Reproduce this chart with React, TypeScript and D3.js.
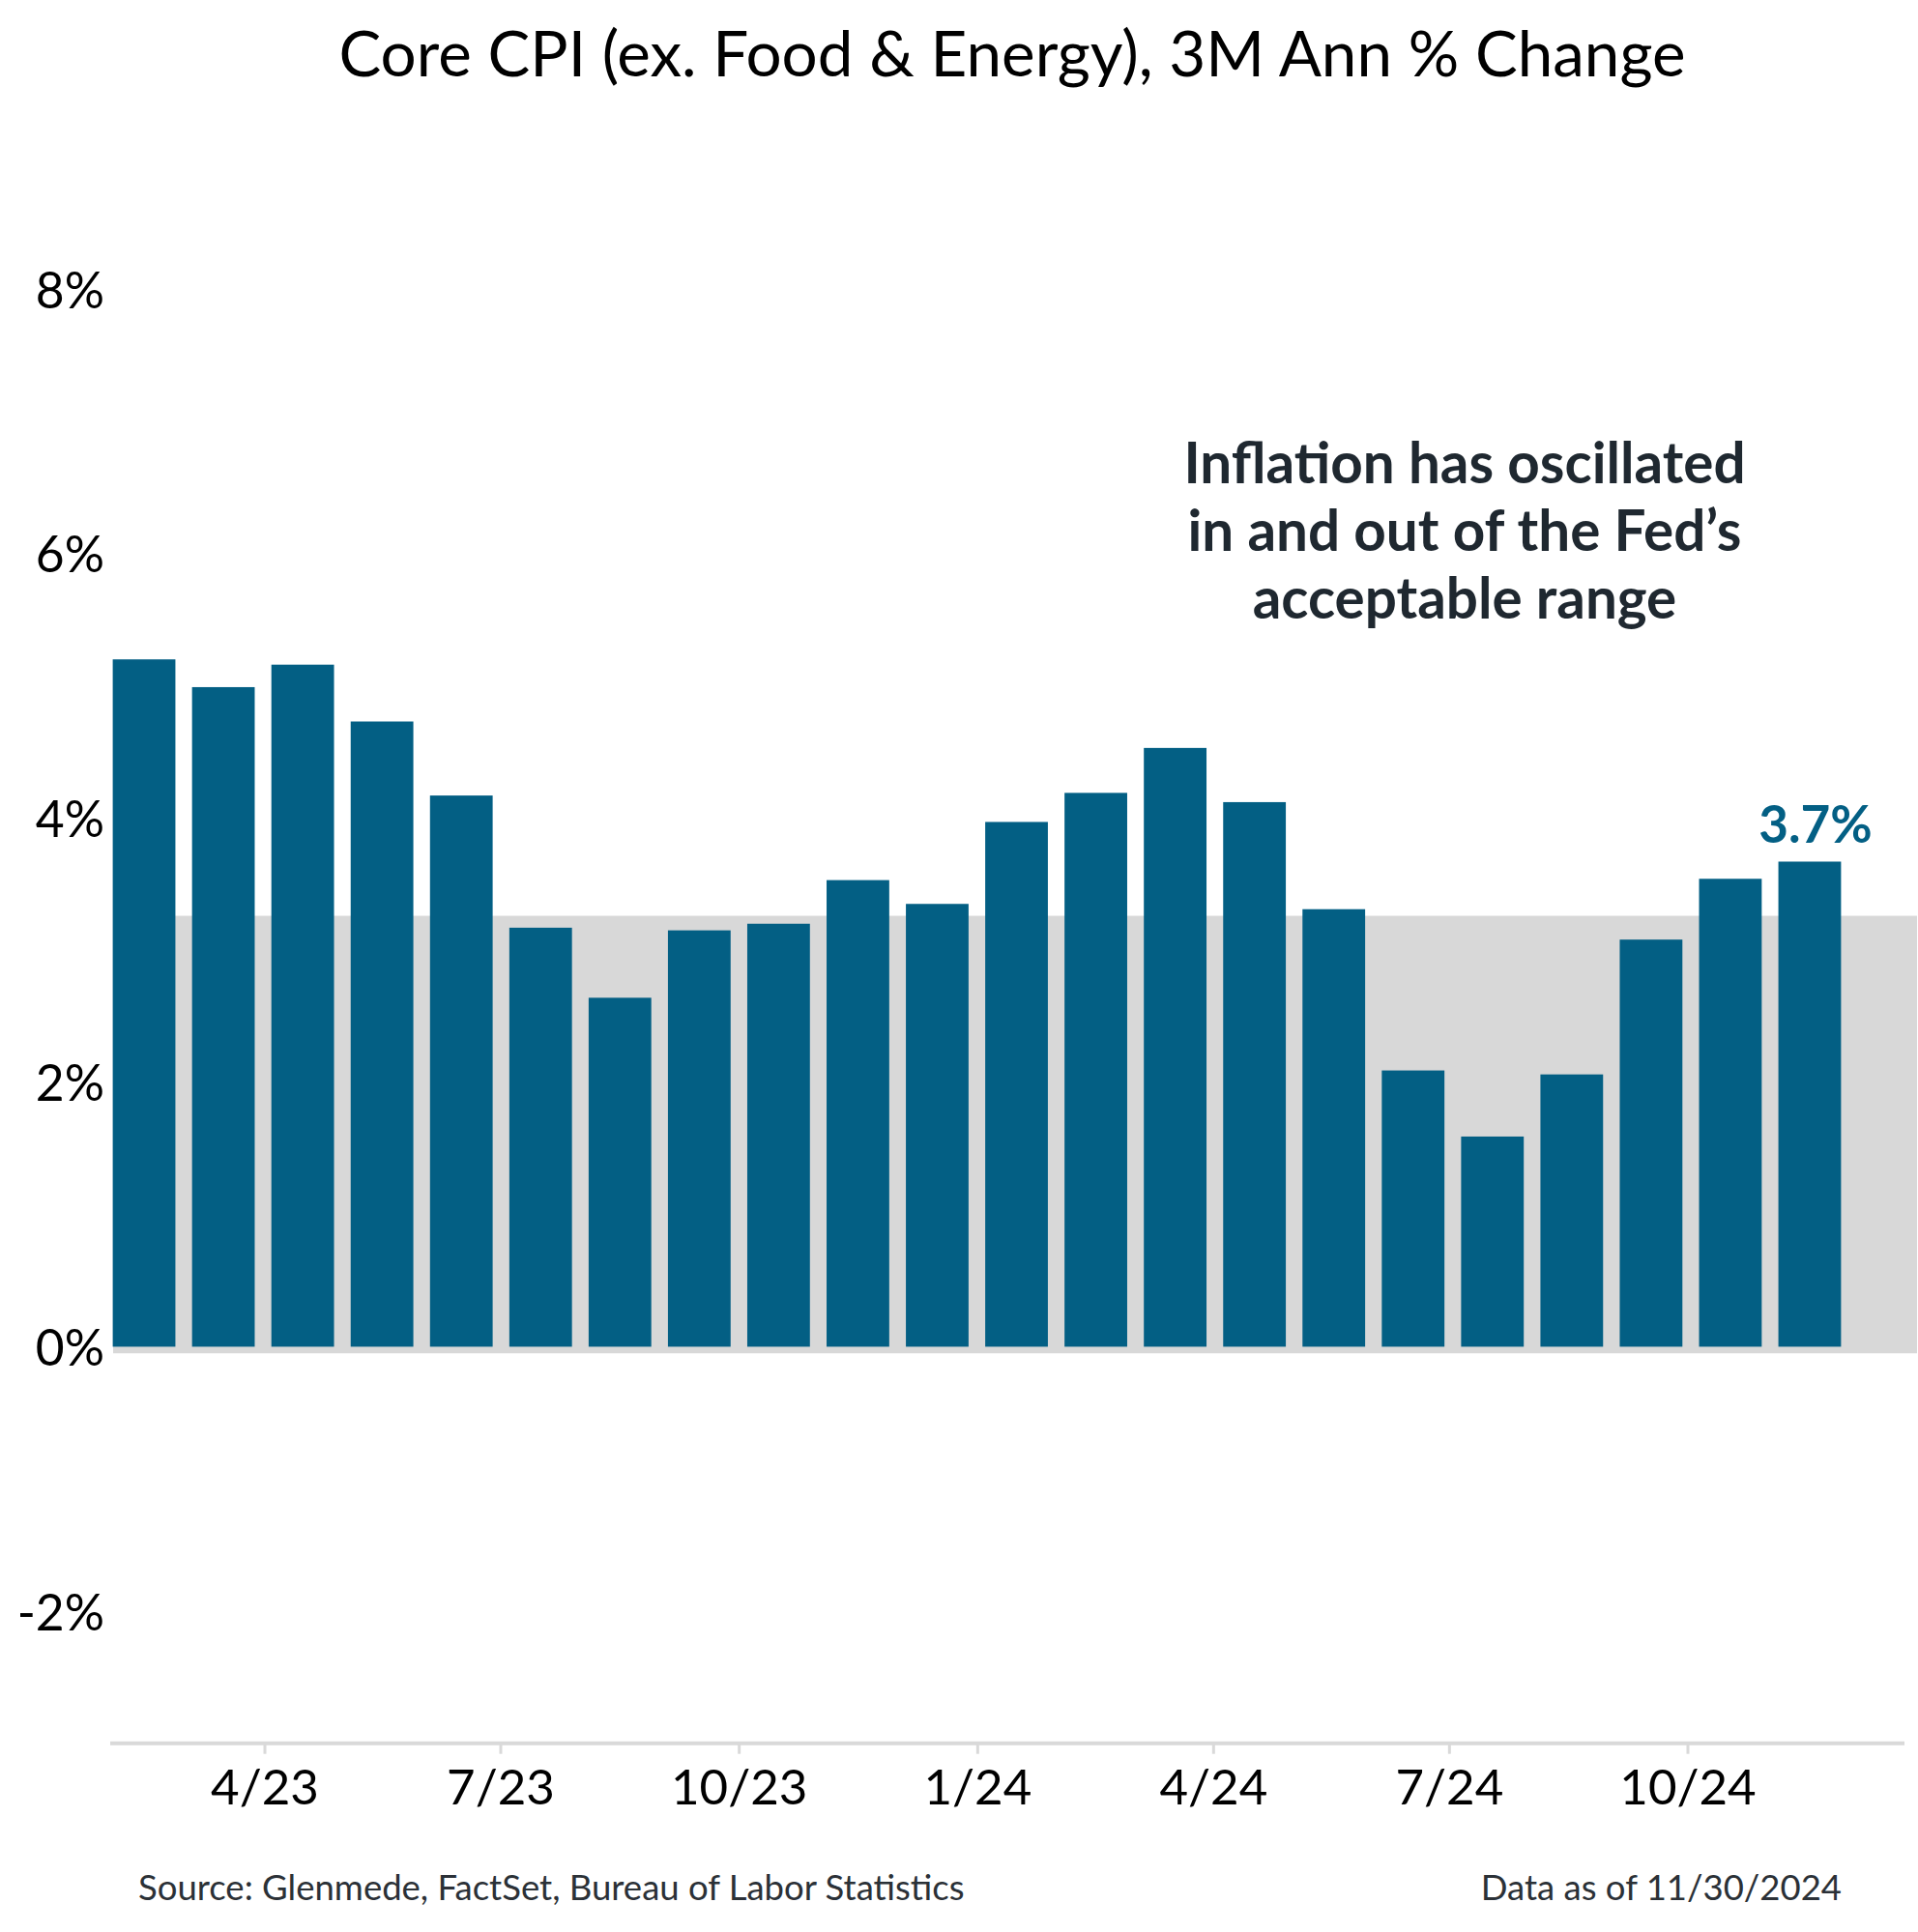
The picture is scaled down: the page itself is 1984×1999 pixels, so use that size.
import React from "react";
import * as d3 from "d3";

const months: string[] = [
  "2023-02", "2023-03", "2023-04", "2023-05", "2023-06", "2023-07", "2023-08", "2023-09",
  "2023-10", "2023-11", "2023-12", "2024-01", "2024-02", "2024-03", "2024-04", "2024-05",
  "2024-06", "2024-07", "2024-08", "2024-09", "2024-10", "2024-11",
];
const values: number[] = [
  5.2, 4.99, 5.16, 4.73, 4.17, 3.17, 2.64, 3.15, 3.2, 3.53, 3.35,
  3.97, 4.19, 4.53, 4.12, 3.31, 2.09, 1.59, 2.06, 3.08, 3.54, 3.67,
];
const yTicks: number[] = [-2, 0, 2, 4, 6, 8];
const tickDates: string[] = ["2023-04-01", "2023-07-01", "2023-10-01", "2024-01-01", "2024-04-01", "2024-07-01", "2024-10-01"];
const fedBand: [number, number] = [-0.05, 3.26];
const title = "Core CPI (ex. Food & Energy), 3M Ann % Change";
const annotation: string[] = ["Inflation has oscillated", "in and out of the Fed\u2019s", "acceptable range"];
const lastLabel = "3.7%";
const source = "Source: Glenmede, FactSet, Bureau of Labor Statistics";
const asOf = "Data as of 11/30/2024";

const W = 1984;
const H = 1999;
const BLUE = "#035f84";
const FONT = "Lato, 'Open Sans', sans-serif";

export default function App() {
  const y = d3.scaleLinear().domain([-3, 8]).range([1803.7, 1393.7 - 8 * 136.8]);
  const xb = d3.scaleBand<string>().domain(months).range([108, 1913]).paddingInner(0.21).paddingOuter(0.105);
  const parse = d3.timeParse("%Y-%m-%d");
  const xt = d3.scaleTime()
    .domain([parse("2023-04-01") as Date, parse("2024-10-01") as Date])
    .range([274, 1746]);
  const fmt = d3.timeFormat("%-m/%y");
  const axisY = y(-3);
  const lastIdx = months.length - 1;

  return (
    <svg width={W} height={H} viewBox={`0 0 ${W} ${H}`} style={{ display: "block", position: "absolute", left: 0, top: 0, background: "#fff" }}>
      <rect x={0} y={0} width={W} height={H} fill="#fff" />
      <text x={1047} y={79} textAnchor="middle" fontFamily={FONT} fontSize={65.5} fill="#000">{title}</text>

      <rect x={117} y={y(fedBand[1])} width={1983 - 117} height={y(fedBand[0]) - y(fedBand[1])} fill="#d8d8d8" />

      {months.map((m, i) => (
        <rect key={m} x={xb(m)} y={y(Math.max(0, values[i]))} width={xb.bandwidth()}
          height={Math.abs(y(values[i]) - y(0))} fill={BLUE} />
      ))}

      {yTicks.map((t) => (
        <text key={t} x={108} y={y(t)} dy="0.38em" textAnchor="end" fontFamily={FONT} fontSize={51.5} fill="#000">{`${t}%`}</text>
      ))}

      <line x1={114} x2={1970} y1={axisY} y2={axisY} stroke="#d9d9d9" strokeWidth={4} />
      {tickDates.map((s) => {
        const d = parse(s) as Date;
        const xx = xt(d);
        return (
          <g key={s}>
            <line x1={xx} x2={xx} y1={axisY} y2={axisY + 11} stroke="#d9d9d9" strokeWidth={3} />
            <text x={xx} y={1867} textAnchor="middle" fontFamily={FONT} fontSize={51} fill="#000">{fmt(d)}</text>
          </g>
        );
      })}

      <text x={(xb(months[lastIdx]) as number) + xb.bandwidth() / 2 + 6} y={y(values[lastIdx]) - 19}
        textAnchor="middle" fontFamily={FONT} fontWeight="bold" fontSize={53} fill={BLUE}>{lastLabel}</text>

      {annotation.map((l, i) => (
        <text key={i} x={1515} y={500 + i * 70} textAnchor="middle" fontFamily={FONT} fontWeight="bold" fontSize={58.4} fill="#1f2830">{l}</text>
      ))}

      <text x={143} y={1966} fontFamily={FONT} fontSize={36.5} fill="#2b3137">{source}</text>
      <text x={1905} y={1966} textAnchor="end" fontFamily={FONT} fontSize={36.5} fill="#2b3137">{asOf}</text>
    </svg>
  );
}
